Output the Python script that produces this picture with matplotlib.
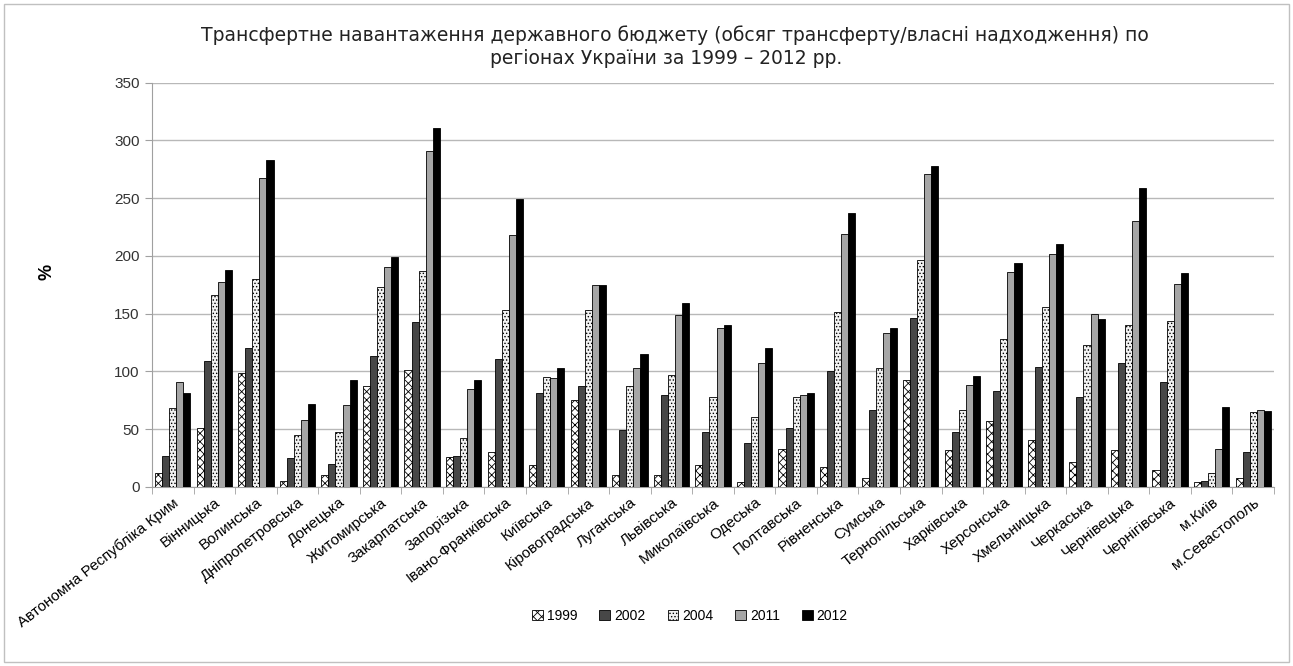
import matplotlib
matplotlib.use("Agg")
import matplotlib.pyplot as plt
import numpy as np
from matplotlib.patches import Rectangle

regions = ["Автономна Республіка Крим", "Вінницька", "Волинська", "Дніпропетровська",
           "Донецька", "Житомирська", "Закарпатська", "Запорізька", "Івано-Франківська",
           "Київська", "Кіровоградська", "Луганська", "Львівська", "Миколаївська",
           "Одеська", "Полтавська", "Рівненська", "Сумська", "Тернопільська",
           "Харківська", "Херсонська", "Хмельницька", "Черкаська", "Чернівецька",
           "Чернігівська", "м.Київ", "м.Севастополь"]
years = ["1999", "2002", "2004", "2011", "2012"]

v1999 = [12, 51, 99, 5, 10, 87, 101, 26, 30, 19, 75, 10, 10, 19, 4, 33, 17, 8, 93, 32, 57, 41, 22, 32, 15, 4, 8]
v2002 = [27, 109, 120, 25, 20, 113, 143, 27, 111, 81, 87, 49, 80, 48, 38, 51, 100, 67, 146, 48, 83, 104, 78, 107, 91, 5, 30]
v2004 = [68, 166, 180, 45, 48, 173, 187, 42, 153, 95, 153, 87, 97, 78, 61, 78, 151, 103, 196, 67, 128, 156, 123, 140, 144, 12, 65]
v2011 = [91, 177, 267, 58, 71, 190, 291, 85, 218, 94, 175, 103, 149, 138, 107, 80, 219, 133, 271, 88, 186, 202, 150, 230, 176, 33, 67]
v2012 = [81, 188, 283, 72, 93, 199, 311, 93, 249, 103, 175, 115, 159, 140, 120, 81, 237, 138, 278, 96, 194, 210, 145, 259, 185, 69, 66]
series = [v1999, v2002, v2004, v2011, v2012]

styles = [
    dict(facecolor="white", edgecolor="black", hatch="xxxx"),
    dict(facecolor="#474747", edgecolor="black", hatch=None),
    dict(facecolor="#f2f2f2", edgecolor="black", hatch="....."),
    dict(facecolor="#a6a6a6", edgecolor="black", hatch=None),
    dict(facecolor="black", edgecolor="black", hatch=None),
]

plt.rcParams['font.family'] = ['Liberation Sans', 'DejaVu Sans']
plt.rcParams['hatch.linewidth'] = 0.6

fig = plt.figure(figsize=(12.93, 6.66), dpi=100)
ax = fig.add_axes([152 / 1293, 1 - 487 / 666, (1274 - 152) / 1293, (487 - 82.5) / 666])

n = len(regions)
x = np.arange(n)
bw = 0.17
for i, (vals, st) in enumerate(zip(series, styles)):
    pos = x - 2 * bw + i * bw
    ax.bar(pos, vals, width=bw, label=years[i], linewidth=0.6, zorder=3, **st)

ax.set_xlim(-0.5, n - 0.5)
ax.set_ylim(0, 350)
ax.set_yticks(np.arange(0, 351, 50))
ax.set_yticklabels([str(v) for v in range(0, 351, 50)], fontsize=11, color="#333333")
ax.yaxis.grid(True, color="#b8b8b8", linewidth=1.0, zorder=0)
ax.set_axisbelow(True)
ax.tick_params(axis='y', length=5, color="#a0a0a0", direction='out', pad=4)

ax.set_xticks(x)
ax.set_xticklabels(regions, rotation=38, ha='right', rotation_mode='anchor', fontsize=11)
ax.set_xticks(np.arange(-0.5, n, 1), minor=True)
ax.tick_params(axis='x', which='major', length=0, pad=6)
ax.tick_params(axis='x', which='minor', length=5, color="#a0a0a0", direction='out')

for s in ['top', 'right']:
    ax.spines[s].set_visible(False)
ax.spines['left'].set_color("#a0a0a0")
ax.spines['bottom'].set_color("#a0a0a0")

fig.text(47 / 1293, 1 - 272 / 666, "%", rotation=90, ha='center', va='center',
         fontsize=13, fontweight='bold')

fig.text(675 / 1293, 1 - 35 / 666,
         "Трансфертне навантаження державного бюджету (обсяг трансферту/власні надходження) по",
         ha='center', va='center', fontsize=13.5, family='DejaVu Sans', color="#222222")
fig.text(666 / 1293, 1 - 58 / 666, "регіонах України за 1999 – 2012 рр.",
         ha='center', va='center', fontsize=13.5, family='DejaVu Sans', color="#222222")

fig.legend(loc='center', bbox_to_anchor=(690 / 1293, 1 - 616 / 666), ncol=5, frameon=False,
           fontsize=10, handlelength=0.75, handleheight=0.75, columnspacing=1.6, handletextpad=0.3)

fig.patches.append(Rectangle((4 / 1293, 4 / 666), 1 - 8 / 1293, 1 - 8 / 666,
                             transform=fig.transFigure, fill=False, edgecolor="#c0c0c0", linewidth=1))

fig.savefig("out.png", dpi=100, facecolor="white")
